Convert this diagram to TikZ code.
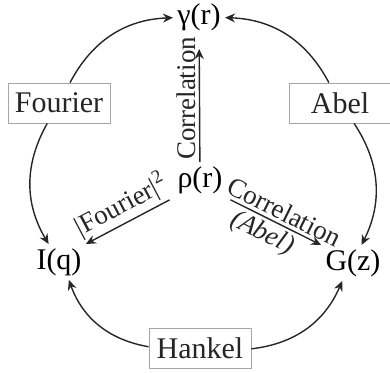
\documentclass[tikz,border=0pt]{standalone}
\usepackage{fontspec}
\setmainfont{Liberation Serif}
\usetikzlibrary{positioning, arrows.meta}

\begin{document}
\begin{tikzpicture}[
    x=0.5pt, y=0.5pt,
    quantity/.style={font=\fontsize{15}{18}\selectfont, inner sep=2pt},
    transform/.style={draw=gray!70, font=\fontsize{15}{18}\selectfont, text=black!85,
                      minimum width=51pt, minimum height=20pt, inner sep=2pt, fill=white},
    arrow/.style={-{Stealth[length=5pt, width=4.5pt]}, line width=0.7pt, black!85},
    link/.style={font=\fontsize{13.5}{16}\selectfont, inner sep=1.5pt, text=black!85},
]
\useasboundingbox (-200,-193) rectangle (190,180);

\node[quantity] (rho) at (0,0) {ρ(r)};
\node[quantity] (gamma) at (-1,163) {γ(r)};
\node[quantity] (iq) at (-141,-82) {I(q)};
\node[quantity] (gz) at (153,-83) {G(z)};
\node[transform] (fourier) at (-141,77) {Fourier};
\node[transform] (abel) at (140,77) {Abel};
\node[transform] (hankel) at (0,-168) {Hankel};

% transforms round the circle
\foreach \a/\b/\c in {fourier/gamma/left, fourier/iq/right, abel/gamma/right,
                      abel/gz/left, hankel/iq/left, hankel/gz/right}{
    \draw[arrow] (\a) to[bend \c=30] (\b);
}

% from the density
\draw[arrow, shorten >=7pt] (rho) -- node[link, rotate=90, anchor=south] {Correlation} (gamma);
\draw[arrow, shorten <=2pt] (rho.south west) -- node[link, sloped, above] {\textbar Fourier\textbar\textsuperscript{2}} (iq.north east);
\draw[arrow, shorten <=2pt] (rho.south east) -- node[link, sloped, above, pos=0.55] {Correlation}
    node[link, sloped, below, pos=0.45] {\textit{(Abel)}} (gz.north west);

\end{tikzpicture}
\end{document}
